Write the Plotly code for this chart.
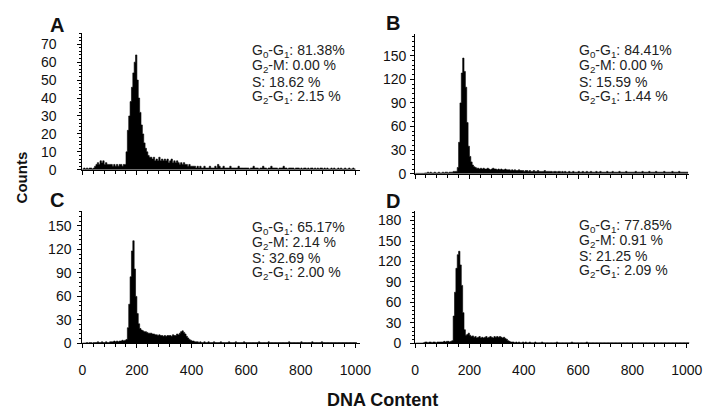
import numpy as np
import plotly.graph_objects as go

# DNA-content histograms, 5-unit bins starting at 0
BIN = 5
counts_A = [
    0.5,1,0.5,1,0.5,1,1,0.5,1,2, 3,4,3,5,4,5,3,4,3,3,
    3,3,2,3,2,3,2,3,3,2,3, 3,10,22,30,38,46,54,60,64,50,
    40,32,25,20,15,12,10,8,7,7, 6,7,5,6,5,7,5,6,5,6,
    5,6,4,5,6,4,5,4,5,4, 3,4,3,4,3,3,2,3,2,2,
    2,2,1,2,1,2,1,1,2,1, 1,1,2,1,1,1,2,1,3,2,
    1,1,2,1,1,1,1,2,1,1, 1,1,1,2,1,1,1,1,1,1,
    1,0.5,1,1,2,1,1,1,0.5,1, 1,2,1,1,0.5,1,1,2,1,1,
    1,1,0.5,1,1,1,2,1,1,0.5, 1,1,1,1,0.5,1,1,1,0.5,1,
    0.5,1,1,0.5,1,0.5,1,1,0.5,1, 0.5,1,0.5,1,1,0.5,1,0.5,1,0.5,
    0.5,1,0.5,1,0.5,0.5,1,0.5,1,0.5, 0.5,1,0.5,0.5,1,0.5,0.5,1,0.5,
]
counts_B = [
    0.5,0.5,0.5,0.5,0.5,0.5,0.5,1,1, 2,1,2,1,1,2,1,1,2,1,
    1,2,1,2,2,1,2,2,2,3, 3,3,8,40,90,128,147,130,110,65,
    35,22,15,11,9,8,7,7,6,7, 6,7,6,6,7,6,5,6,7,6,
    6,5,6,5,6,5,5,6,5,5, 5,4,5,4,5,4,4,5,4,4,
    4,3,4,4,3,4,3,3,4,3, 3,4,3,3,3,3,4,3,3,3,
    3,3,2,3,3,2,3,3,2,3, 2,3,2,2,3,2,2,3,2,2,
    2,3,2,2,3,2,2,3,2,2, 3,2,2,2,3,2,2,3,2,2,
    2,2,3,2,2,2,3,2,2,2, 2,3,2,2,2,2,3,2,2,2,
    2,2,2,3,2,2,2,2,3,2, 2,2,2,3,2,2,2,2,3,2,
    2,2,2,2,3,2,2,2,2,2, 3,2,2,2,2,3,2,2,2,2,2,2,
]
counts_C = [
    0.5,0.5,0.5,1,0.5,1,1,0.5,1,1, 1,2,1,1,2,1,1,2,1,1,
    2,2,2,3,2,3,2,3,3,4,3, 4,5,20,50,85,118,131,95,60,38,25,
    19,17,16,15,15,14,13,13,13,12,12, 11,11,10,11,10,10,9,10,9,10,
    10,10,9,11,10,10,12,11,13,15,16, 14,12,9,7,5,4,3,3,2,2,
    2,1,2,1,1,2,1,1,2,1, 1,1,2,1,1,1,1,2,1,1,
    1,1,1,2,1,1,1,1,2,1, 1,1,1,1,2,1,1,1,1,1,
    1,1,1,1,1,2,1,1,1,1, 1,1,2,1,1,1,1,1,1,1,
    1,1,1,1,1,1,1,2,1,1, 1,1,1,1,1,1,2,1,1,1,
    1,1,1,1,2,1,1,1,1,1, 1,2,1,1,1,1,1,1,1,1,
    1,1,1,1,1,1,1,1,1,1, 1,1,1,1,1,1,1,
]
counts_D = [
    0.5,0.5,0.5,0.5,0.5,0.5,1,2,2,1, 2,2,1,2,2,1,2,2,2,2,
    2,3,2,3,3,2,3,4,40,75, 110,130,135,115,85,45,20,12,13,15,
    12,10,11,9,10,8,9,10,8,9, 8,9,10,8,9,10,9,8,10,9,
    10,9,10,9,8,9,7,6,4,3, 2,2,2,1,2,1,2,1,1,2,
    1,2,1,1,2,1,1,1,2,1, 1,1,1,2,1,1,1,1,1,1,
    1,1,1,1,2,1,1,1,1,1, 1,1,1,1,1,2,1,1,1,1,
    1,1,1,1,1,1,2,1,1,1, 1,1,1,1,1,1,1,1,1,1,
    1,1,1,1,1,1,1,1,1,1, 1,1,1,1,1,1,1,1,1,1,
    1,1,1,1,1,1,1,1,1,1, 1,1,1,1,1,1,1,1,1,1,
    1,1,1,1,1,1,1,1,1,1, 1,1,1,1,1,1,1,1,1,1,1,1,
]

panel_letters = ["A", "B", "C", "D"]
stats_A = ["G<sub>0</sub>-G<sub>1</sub>: 81.38%", "G<sub>2</sub>-M: 0.00 %", "S: 18.62 %", "G<sub>2</sub>-G<sub>1</sub>: 2.15 %"]
stats_B = ["G<sub>0</sub>-G<sub>1</sub>: 84.41%", "G<sub>2</sub>-M: 0.00 %", "S: 15.59 %", "G<sub>2</sub>-G<sub>1</sub>: 1.44 %"]
stats_C = ["G<sub>0</sub>-G<sub>1</sub>: 65.17%", "G<sub>2</sub>-M: 2.14 %", "S: 32.69 %", "G<sub>2</sub>-G<sub>1</sub>: 2.00 %"]
stats_D = ["G<sub>0</sub>-G<sub>1</sub>: 77.85%", "G<sub>2</sub>-M: 0.91 %", "S: 21.25 %", "G<sub>2</sub>-G<sub>1</sub>: 2.09 %"]

y_max = [76.5, 177, 169, 194]
y_dtick = [10, 30, 30, 30]
x_ticks = [0, 200, 400, 600, 800, 1000]
x_max = [1015, 1010, 1015, 1010]

W, H = 712, 414
FONT = "Liberation Sans, Arial, sans-serif"
INK = "#111111"

# panel geometry in pixels: (x0, x1, ytop, ybottom)
geo = [(72, 356, 25, 165), (413, 694, 27, 169), (72, 356, 207, 342), (413, 694, 207, 342)]
label_pos = [(46, 17), (390, 15), (46, 196), (390, 197)]
stats_pos = [(244, 44), (579, 44), (244, 224), (579, 222)]
y_standoff = [18, 1, 3, 6]

fig = go.Figure()
all_counts = [counts_A, counts_B, counts_C, counts_D]
all_stats = [stats_A, stats_B, stats_C, stats_D]

for i, counts in enumerate(all_counts):
    edges = np.arange(len(counts) + 1) * BIN
    yv = list(counts) + [counts[-1]]
    sfx = "" if i == 0 else str(i + 1)
    fig.add_trace(go.Scatter(
        x=edges, y=yv, mode="lines", line=dict(color="black", width=0.6, shape="hv"),
        fill="tozeroy", fillcolor="black", xaxis="x" + sfx, yaxis="y" + sfx,
        showlegend=False, hoverinfo="skip"))
    x0, x1, yt, yb = geo[i]
    bottom = i >= 2
    fig.update_layout(**{
        "xaxis" + sfx: dict(
            domain=[x0 / W, x1 / W], range=[0, x_max[i]], anchor="y" + sfx,
            showline=True, linecolor="black", linewidth=1, showgrid=False, zeroline=False,
            ticks="outside", ticklen=4, tickcolor="black", tickvals=x_ticks,
            showticklabels=bottom, ticklabelstandoff=10,
            tickfont=dict(family=FONT, size=14, color=INK),
            minor=dict(dtick=40, ticks="outside", ticklen=3, tickcolor="black", showgrid=False)),
        "yaxis" + sfx: dict(
            domain=[1 - yb / H, 1 - yt / H], range=[0, y_max[i]], anchor="x" + sfx,
            showline=True, linecolor="black", linewidth=1, showgrid=False, zeroline=False,
            ticks="outside", ticklen=4, tickcolor="black", dtick=y_dtick[i],
            ticklabelstandoff=y_standoff[i],
            tickfont=dict(family=FONT, size=14, color=INK),
            minor=dict(dtick=y_dtick[i] / 5, ticks="outside", ticklen=2, tickcolor="black", showgrid=False)),
    })
    lx, ly = label_pos[i]
    fig.add_annotation(text="<b>%s</b>" % panel_letters[i], x=lx / W, y=1 - ly / H,
                       xref="paper", yref="paper", showarrow=False, xanchor="center", yanchor="middle",
                       font=dict(family=FONT, size=20, color=INK))
    sx, sy = stats_pos[i]
    for k, line in enumerate(all_stats[i]):
        fig.add_annotation(text=line, x=sx / W, y=1 - (sy + 15.5 * k) / H,
                           xref="paper", yref="paper", showarrow=False, xanchor="left", yanchor="middle",
                           font=dict(family=FONT, size=14, color="#222222"))

fig.add_annotation(text="<b>Counts</b>", x=10 / W, y=1 - 173 / H, xref="paper", yref="paper",
                   showarrow=False, textangle=-90, xanchor="center", yanchor="middle",
                   font=dict(family=FONT, size=15, color=INK))
fig.add_annotation(text="<b>DNA Content</b>", x=380 / W, y=1 - 400 / H, xref="paper", yref="paper",
                   showarrow=False, xanchor="center", yanchor="middle",
                   font=dict(family=FONT, size=18, color=INK))

fig.update_layout(width=W, height=H, margin=dict(l=0, r=0, t=0, b=0),
                  paper_bgcolor="white", plot_bgcolor="white", showlegend=False)
fig.write_html("out.html")
